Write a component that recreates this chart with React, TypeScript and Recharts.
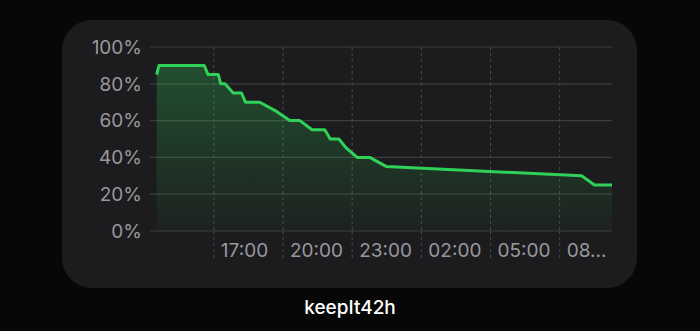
import { AreaChart, Area, XAxis, YAxis, CartesianGrid } from 'recharts'

// hours since midnight of the first day (24+ = next day)
const hours = [14.52, 14.62, 16.58, 16.75, 17.19, 17.3, 17.48, 17.84, 18.2, 18.37, 18.99, 19.72, 20.29, 20.73, 21.26, 21.81, 22.05, 22.42, 22.75, 23.22, 23.76, 24.49, 32.95, 33.51, 34.27]
const levels = [85, 90, 90, 85, 85, 80, 80, 75, 75, 70, 70, 65, 60, 60, 55, 55, 50, 50, 45, 40, 40, 35, 30, 25, 25]

const timeTicks = [17, 20, 23, 26, 29, 32]
const timeLabels = ['17:00', '20:00', '23:00', '02:00', '05:00', '08...']
const percentTicks = [0, 20, 40, 60, 80, 100]
const timeDomain = [14.23, 34.27]

const data = hours.map((t, i) => ({ t, level: levels[i] }))

const FONT = 'Inter, "Noto Sans", sans-serif'

const TimeTick = ({ x, y, payload }: any) => {
  const idx = timeTicks.indexOf(payload.value)
  return (
    <g>
      <line x1={x} x2={x} y1={y} y2={y + 29} stroke="#4a4a4d" strokeDasharray="3 3" />
      <text x={x + 7} y={y + 26} fill="#98989d" fontSize={19} fontFamily={FONT} textAnchor="start">
        {timeLabels[idx]}
      </text>
    </g>
  )
}

// only draw the dashed verticals at the hour ticks, not at the plot edges
const tickVerticals = ({ offset }: any) =>
  timeTicks.map((t) => offset.left + ((t - timeDomain[0]) / (timeDomain[1] - timeDomain[0])) * offset.width)

export default function App() {
  return (
    <div style={{ position: 'absolute', left: 0, top: 0, width: 700, height: 331, background: '#070707', overflow: 'hidden' }}>
      <div
        style={{
          position: 'absolute',
          left: 62,
          top: 20,
          width: 575,
          height: 268,
          borderRadius: 30,
          background: '#1c1c1e',
        }}
      />
      <div style={{ position: 'absolute', left: 0, top: 0 }}>
        <AreaChart width={700} height={331} data={data} margin={{ top: 47, right: 88, bottom: 0, left: 0 }}>
          <defs>
            <linearGradient id="batteryFill" x1="0" y1="0" x2="0" y2="1">
              <stop offset="0%" stopColor="#30d158" stopOpacity={0.28} />
              <stop offset="100%" stopColor="#30d158" stopOpacity={0.03} />
            </linearGradient>
          </defs>
          <CartesianGrid horizontal vertical={false} stroke="#3d3d40" strokeWidth={1.2} />
          <CartesianGrid
            horizontal={false}
            vertical
            verticalCoordinatesGenerator={tickVerticals}
            stroke="#4a4a4d"
            strokeDasharray="3 3"
          />
          <XAxis
            dataKey="t"
            type="number"
            domain={timeDomain}
            ticks={timeTicks}
            axisLine={false}
            tickLine={false}
            tickSize={0}
            tickMargin={0}
            tick={<TimeTick />}
            interval={0}
            height={100}
          />
          <YAxis
            type="number"
            domain={[0, 100]}
            ticks={percentTicks}
            interval={0}
            tickFormatter={(v: number) => `${v}%`}
            axisLine={false}
            tickLine={false}
            tickSize={0}
            tickMargin={8}
            width={150}
            tick={{ fill: '#98989d', fontSize: 19, fontFamily: FONT }}
          />
          <Area
            type="linear"
            dataKey="level"
            stroke="#30d158"
            strokeWidth={3}
            strokeLinejoin="round"
            fill="url(#batteryFill)"
            fillOpacity={1}
            dot={false}
            activeDot={false}
            isAnimationActive={false}
          />
        </AreaChart>
      </div>
      <div
        style={{
          position: 'absolute',
          left: 0,
          width: 700,
          top: 296,
          textAlign: 'center',
          color: '#ffffff',
          fontFamily: FONT,
          fontSize: 19,
          fontWeight: 500,
        }}
      >
        keepIt42h
      </div>
    </div>
  )
}
